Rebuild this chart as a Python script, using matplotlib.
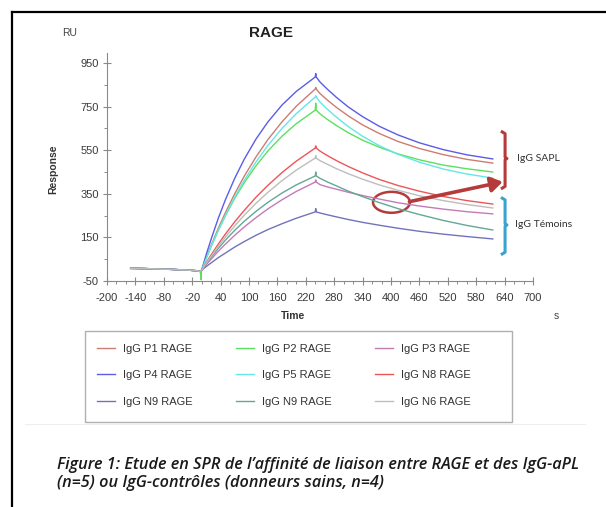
import numpy as np
import matplotlib
matplotlib.use('Agg')
import matplotlib.pyplot as plt
from matplotlib.patches import Ellipse, Rectangle
from matplotlib.lines import Line2D

# ---- sensorgram values (RU) ----
base_t = [-150, -120, -90, -60, -30, -10, -3]
base_v = [8, 7, 5, 3, 0, -3, -6]

assoc_t = [0, 10, 20, 35, 50, 70, 90, 115, 140, 170, 200, 240]
spike_t = 241
dissoc_t = [242, 250, 265, 285, 310, 340, 375, 415, 460, 510, 560, 615]

p1_assoc = [0, 58, 113, 191, 263, 351, 431, 520, 599, 681, 752, 831]
p1_spike = 838
p1_dissoc = [831, 810, 781, 746, 707, 666, 627, 590, 558, 530, 508, 491]

p2_assoc = [0, 56, 109, 182, 249, 330, 401, 479, 547, 615, 672, 734]
p2_spike = 766
p2_dissoc = [734, 717, 692, 663, 630, 596, 564, 533, 506, 482, 465, 450]
p2_dip_t = -1
p2_dip = -45

p3_assoc = [0, 26, 50, 86, 119, 160, 198, 241, 281, 323, 361, 404]
p3_spike = 414
p3_dissoc = [404, 392, 382, 371, 357, 342, 326, 309, 294, 280, 268, 258]

p4_assoc = [0, 74, 142, 237, 322, 422, 509, 602, 680, 758, 820, 886]
p4_spike = 902
p4_dissoc = [886, 863, 831, 792, 748, 704, 660, 620, 584, 553, 529, 510]

p5_assoc = [0, 55, 108, 182, 251, 336, 412, 497, 572, 651, 718, 794]
p5_spike = 800
p5_dissoc = [794, 771, 739, 701, 658, 614, 571, 531, 495, 464, 441, 422]

n8_assoc = [0, 36, 70, 119, 165, 222, 274, 335, 389, 448, 500, 560]
n8_spike = 570
n8_dissoc = [560, 546, 526, 502, 475, 446, 416, 388, 362, 338, 319, 303]

n9a_assoc = [0, 17, 33, 57, 78, 106, 131, 160, 186, 213, 238, 267]
n9a_spike = 282
n9a_dissoc = [267, 262, 254, 244, 232, 219, 206, 192, 178, 165, 154, 143]

n9b_assoc = [0, 30, 59, 99, 137, 183, 224, 270, 311, 354, 391, 432]
n9b_spike = 450
n9b_dissoc = [432, 421, 405, 386, 362, 337, 310, 282, 255, 228, 205, 184]

n6_assoc = [0, 33, 64, 109, 151, 203, 252, 307, 357, 411, 459, 514]
n6_spike = 525
n6_dissoc = [514, 502, 486, 465, 442, 417, 391, 366, 341, 319, 301, 285]

labels = ['IgG P1 RAGE', 'IgG P2 RAGE', 'IgG P3 RAGE',
          'IgG P4 RAGE', 'IgG P5 RAGE', 'IgG N8 RAGE',
          'IgG N9 RAGE', 'IgG N9 RAGE', 'IgG N6 RAGE']
colors = ['#cc7c72', '#5ee05e', '#c57ab8',
          '#5c5ce6', '#66e6e6', '#f05555',
          '#7272bc', '#62a896', '#bdbdbd']


def build(assoc, spike, dissoc, dip=None):
    t = list(base_t)
    v = list(base_v)
    if dip is not None:
        t += [p2_dip_t, p2_dip_t + 0.5]
        v += [dip, base_v[-1]]
    t += assoc_t + [spike_t] + dissoc_t
    v += assoc + [spike] + dissoc
    return t, v


series = [build(p1_assoc, p1_spike, p1_dissoc),
          build(p2_assoc, p2_spike, p2_dissoc, dip=p2_dip),
          build(p3_assoc, p3_spike, p3_dissoc),
          build(p4_assoc, p4_spike, p4_dissoc),
          build(p5_assoc, p5_spike, p5_dissoc),
          build(n8_assoc, n8_spike, n8_dissoc),
          build(n9a_assoc, n9a_spike, n9a_dissoc),
          build(n9b_assoc, n9b_spike, n9b_dissoc),
          build(n6_assoc, n6_spike, n6_dissoc)]

W, H = 606, 507


def fx(x):
    return x / W


def fy(y):
    return 1 - y / H


plt.rcParams['font.family'] = ['Liberation Sans', 'DejaVu Sans']
plt.rcParams['axes.unicode_minus'] = False

fig = plt.figure(figsize=(W / 100, H / 100), dpi=100)
ax = fig.add_axes([fx(107), fy(281), fx(533) - fx(107), fy(53) - fy(281)])

handles = []
for (t, v), c, lab in zip(series, colors, labels):
    ln, = ax.plot(t, v, color=c, lw=1.0, label=lab)
    handles.append(ln)

ax.set_xlim(-200, 700)
ax.set_ylim(-50, 996)
ax.set_xticks(np.arange(-200, 701, 60))
ax.set_xticks(np.arange(-200, 701, 20), minor=True)
ax.set_yticks(np.arange(-50, 951, 200))
ax.set_yticks(np.arange(-50, 951, 100), minor=True)
for s in ['top', 'right']:
    ax.spines[s].set_visible(False)
for s in ['left', 'bottom']:
    ax.spines[s].set_color('#8a8a8a')
    ax.spines[s].set_linewidth(0.8)
ax.tick_params(which='major', direction='inout', length=6, width=0.8,
               color='#8a8a8a', labelsize=8, labelcolor='#3a3a3a', pad=3)
ax.tick_params(axis='x', which='major', pad=5.5)
ax.tick_params(which='minor', direction='out', length=2.5, width=0.7,
               color='#8a8a8a')

# annotations: brackets, ellipse, arrow
red = '#b53b3b'
blue = '#3aa4cf'
ax.plot([635, 641, 641, 645, 641, 641, 635], [634, 626, 518, 512, 506, 384, 376],
        color=red, lw=2.2, clip_on=False, solid_joinstyle='round')
ax.plot([635, 641, 641, 645, 641, 641, 635], [330, 322, 213, 207, 201, 82, 74],
        color=blue, lw=2.2, clip_on=False, solid_joinstyle='round')
ax.add_patch(Ellipse((401, 311), 78, 96, fill=False, edgecolor=red, lw=1.8))
ax.annotate('', xy=(636, 405), xytext=(439, 314),
            arrowprops=dict(arrowstyle='-|>,head_length=0.7,head_width=0.45',
                            color=red, lw=2.6, shrinkA=0, shrinkB=0),
            annotation_clip=False)
ax.text(666, 510, 'IgG SAPL', fontsize=7.5, color='#333333', va='center',
        family=['Lato', 'DejaVu Sans'], clip_on=False)
ax.text(662, 207, 'IgG Témoins', fontsize=7.5, color='#333333', va='center',
        family=['Lato', 'DejaVu Sans'], clip_on=False)

# texts around the chart
fig.text(fx(271), fy(33), 'RAGE', fontsize=11, fontweight='bold',
         ha='center', va='center', color='#222222')
fig.text(fx(70), fy(33), 'RU', fontsize=7.5, ha='center', va='center',
         color='#444444')
fig.text(fx(53), fy(169), 'Response', fontsize=7.5, fontweight='bold',
         rotation=90, ha='center', va='center', color='#333333')
fig.text(fx(293), fy(316), 'Time', fontsize=7.5, fontweight='bold',
         ha='center', va='center', color='#333333')
fig.text(fx(556), fy(316), 's', fontsize=7.5, ha='center', va='center',
         color='#444444')

# legend box (row-major order in the picture)
order = [0, 3, 6, 1, 4, 7, 2, 5, 8]
fig.add_artist(Rectangle((fx(85), fy(422)), fx(512) - fx(85), fy(331) - fy(422),
                         transform=fig.transFigure, fill=False,
                         edgecolor='#b0b0b0', lw=1.0))
leg = fig.legend([handles[i] for i in order], [labels[i] for i in order],
                 ncol=3, loc='upper left', bbox_to_anchor=(fx(97), fy(344)),
                 frameon=False, fontsize=8, handlelength=1.6,
                 handletextpad=0.7, columnspacing=3.95, labelspacing=1.47,
                 borderpad=0, borderaxespad=0)
for txt in leg.get_texts():
    txt.set_color('#333333')

fig.add_artist(Line2D([fx(25), fx(585)], [fy(424), fy(424)],
                      transform=fig.transFigure, color='#eeeeee', lw=0.8))

# frame lines of the screenshot
fig.add_artist(Line2D([fx(12), fx(606)], [fy(12), fy(12)],
                      transform=fig.transFigure, color='black', lw=1.6))
fig.add_artist(Line2D([fx(12), fx(12)], [fy(12), fy(507)],
                      transform=fig.transFigure, color='black', lw=1.6))

# caption
cap_font = ['Open Sans', 'DejaVu Sans']
fig.text(fx(57), fy(465),
         'Figure 1: Etude en SPR de l\u2019affinité de liaison entre RAGE et des IgG-aPL',
         fontsize=11.7, style='italic', fontweight='semibold', family=cap_font,
         ha='left', va='center', color='#1a1a1a')
fig.text(fx(57), fy(483), '(n=5) ou IgG-contrôles (donneurs sains, n=4)',
         fontsize=11.7, style='italic', fontweight='semibold', family=cap_font,
         ha='left', va='center', color='#1a1a1a')

fig.savefig('out.png', dpi=100)
